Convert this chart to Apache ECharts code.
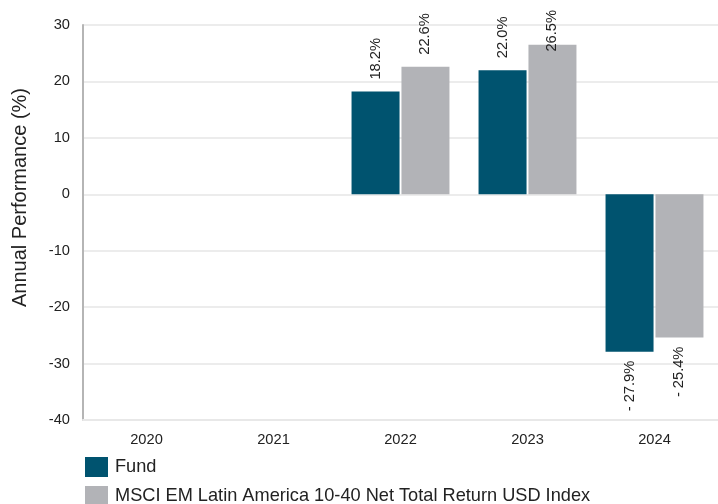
<!DOCTYPE html>
<html>
<head>
<meta charset="utf-8">
<script src="https://cdn.jsdelivr.net/npm/echarts@6/dist/echarts.min.js"></script>
<style>
  html, body { margin: 0; padding: 0; background: #fff; }
  #chart { width: 718px; height: 504px; }
</style>
</head>
<body>
<div id="chart"></div>
<script>
'use strict';

// data
const years = ['2020', '2021', '2022', '2023', '2024'];
const fund = [null, null, 18.2, 22.0, -27.9];
const benchmark = [null, null, 22.6, 26.5, -25.4];
const seriesNames = ['Fund', 'MSCI EM Latin America 10-40 Net Total Return USD Index'];

const FONT = "'Liberation Sans', Arial, sans-serif";
const LABEL_SIZE = 14.67;
const COLORS = ['#00536f', '#b2b3b7'];

function fmt(v) {
  if (v == null) return '';
  return (v < 0 ? '- ' : '') + Math.abs(v).toFixed(1) + '%';
}

const measureCtx = document.createElement('canvas').getContext('2d');
function textWidth(s) {
  measureCtx.font = LABEL_SIZE + 'px ' + FONT;
  return measureCtx.measureText(s).width;
}

// label above a positive bar, below a negative one, written bottom-to-top.
// when a label would run off the top, it is pushed down into the bar
function withLabels(values, chart) {
  return values.map((v) => {
    if (v == null) return null;
    const neg = v < 0;
    let distance = neg ? 9 : 12;
    if (!neg && chart) {
      const top = chart.convertToPixel({ yAxisIndex: 0 }, v);
      const room = top - 10 - textWidth(fmt(v));
      if (room < distance) distance = room;
    }
    return {
      value: v,
      label: {
        show: true,
        position: neg ? 'bottom' : 'top',
        distance,
        rotate: 90,
        align: neg ? 'right' : 'left',
        verticalAlign: 'middle',
        formatter: () => fmt(v),
        fontFamily: FONT, fontSize: LABEL_SIZE, color: '#222'
      }
    };
  });
}

function legendItem(name, top) {
  return {
    orient: 'vertical',
    left: 85, top, padding: 0,
    itemWidth: 23, itemHeight: 20,
    icon: 'rect',
    textStyle: { fontFamily: FONT, fontSize: 18.2, color: '#222', padding: [0, 0, 0, 2] },
    data: [name]
  };
}

const chart = echarts.init(document.getElementById('chart'), null, { renderer: 'canvas' });

chart.setOption({
  animation: false,
  color: COLORS,
  grid: { left: 83, right: -4, top: 25, bottom: 84, containLabel: false },
  legend: [legendItem(seriesNames[0], 457), legendItem(seriesNames[1], 486)],
  xAxis: {
    type: 'category',
    data: years,
    axisLine: { onZero: false, lineStyle: { color: '#e8e8e8', width: 2 } },
    axisTick: { show: false },
    axisLabel: { fontFamily: FONT, fontSize: 14.67, color: '#222', margin: 12 }
  },
  yAxis: {
    type: 'value',
    min: -40, max: 30, interval: 10,
    name: 'Annual Performance (%)',
    nameLocation: 'middle',
    nameGap: 53,
    // the title sits a little above the middle of the axis
    nameTextStyle: { fontFamily: FONT, fontSize: 20, color: '#222', padding: [0, 0, 0, 50] },
    axisLine: { show: true, lineStyle: { color: '#b5b5b5', width: 2 } },
    axisTick: { show: false },
    axisLabel: { fontFamily: FONT, fontSize: 14.67, color: '#222', margin: 13 },
    splitLine: { lineStyle: { color: '#ececec', width: 2 } }
  },
  series: [
    { name: seriesNames[0], type: 'bar', barWidth: 48, barGap: '4%', data: withLabels(fund) },
    { name: seriesNames[1], type: 'bar', barWidth: 48, barGap: '4%', data: withLabels(benchmark) }
  ]
});

// second pass once the axis can turn values into pixels
chart.setOption({
  series: [
    { data: withLabels(fund, chart) },
    { data: withLabels(benchmark, chart) }
  ]
});
</script>
</body>
</html>
